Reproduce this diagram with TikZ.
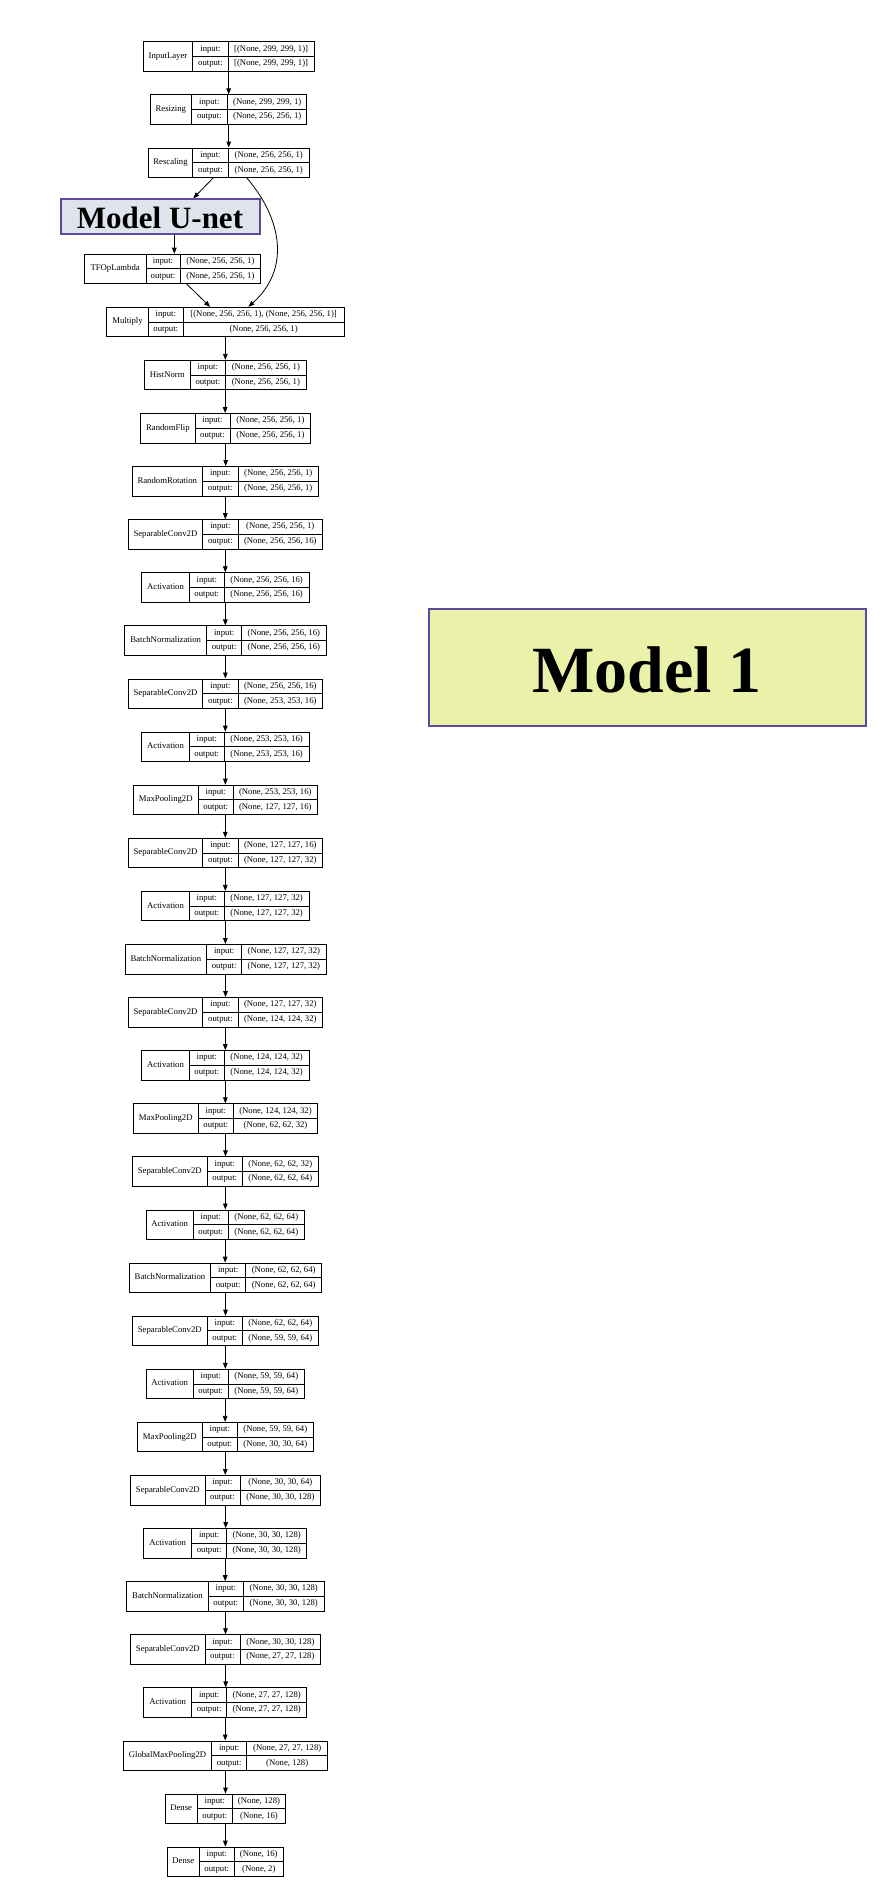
\documentclass[tikz,border=0pt]{standalone}
\usepackage{fontspec}
\setmainfont{Liberation Serif}
\usetikzlibrary{arrows.meta,calc}
\definecolor{purp}{RGB}{96,72,160}
\definecolor{unetfill}{RGB}{223,227,236}
\definecolor{mfill}{RGB}{234,242,169}
\tikzset{
  lbox/.style={draw=black, line width=0.8pt, rectangle, inner sep=0pt, minimum height=29.5pt},
  sep/.style={draw=black, line width=0.8pt},
  txt/.style={inner sep=0pt, text height=6pt, text depth=2pt, font=\fontsize{8.7}{10}\selectfont},
  arr/.style={line width=0.8pt, -{Triangle[length=6pt,width=4.6pt]}},
  titlebox/.style={draw=purp, line width=2pt, rectangle, inner sep=0pt},
}
\newcommand\klayer[8]{%
  \pgfmathsetmacro\kt{41.7+53.1*#1}%
  \pgfmathsetmacro\km{\kt+14.75}%
  \pgfmathsetmacro\kb{\kt+29.5}%
  \pgfmathsetmacro\kw{#5-#2}%
  \pgfmathsetmacro\kx{(#2+#5)/2}%
  \node[lbox, minimum width=\kw pt] (L#1) at (\kx,\km) {};
  \draw[sep] (#3,\kt) -- (#3,\kb) (#4,\kt) -- (#4,\kb) (#3,\km) -- (#5,\km);
  \node[txt] (L#1n) at ({(#2+#3)/2},\km) {#6};
  \node[txt] (L#1i) at ({(#3+#4)/2},{\kt+7.375}) {input:};
  \node[txt] (L#1o) at ({(#3+#4)/2},{\kt+22.125}) {output:};
  \node[txt] (L#1a) at ({(#4+#5)/2},{\kt+7.375}) {#7};
  \node[txt] (L#1b) at ({(#4+#5)/2},{\kt+22.125}) {#8};
}
\begin{document}
\begin{tikzpicture}[x=1pt,y=-1pt]
\useasboundingbox (0,0) rectangle (890,1896);
\fill[white] (0,0) rectangle (890,1896);

\klayer{0}{143.3}{192.7}{228.3}{314}{InputLayer}{[(None, 299, 299, 1)]}{[(None, 299, 299, 1)]}
\klayer{1}{150.7}{191}{227.7}{306.7}{Resizing}{(None, 299, 299, 1)}{(None, 256, 256, 1)}
\klayer{2}{148.3}{192.7}{228.3}{309.3}{Rescaling}{(None, 256, 256, 1)}{(None, 256, 256, 1)}
\klayer{4}{84.3}{146}{180}{260.7}{TFOpLambda}{(None, 256, 256, 1)}{(None, 256, 256, 1)}
\klayer{5}{106.7}{148.3}{183.3}{344}{Multiply}{[(None, 256, 256, 1), (None, 256, 256, 1)]}{(None, 256, 256, 1)}
\klayer{6}{144.3}{190}{225.7}{306}{HistNorm}{(None, 256, 256, 1)}{(None, 256, 256, 1)}
\klayer{7}{140.7}{195}{230}{310.7}{RandomFlip}{(None, 256, 256, 1)}{(None, 256, 256, 1)}
\klayer{8}{132.3}{202.3}{238.3}{318.3}{RandomRotation}{(None, 256, 256, 1)}{(None, 256, 256, 1)}
\klayer{9}{128.3}{202.5}{238.3}{322.3}{SeparableConv2D}{(None, 256, 256, 1)}{(None, 256, 256, 16)}
\klayer{10}{141.7}{189.3}{224.3}{309}{Activation}{(None, 256, 256, 16)}{(None, 256, 256, 16)}
\klayer{11}{124.7}{206.7}{241.7}{326}{BatchNormalization}{(None, 256, 256, 16)}{(None, 256, 256, 16)}
\klayer{12}{128.3}{202.7}{238.3}{322.3}{SeparableConv2D}{(None, 256, 256, 16)}{(None, 253, 253, 16)}
\klayer{13}{141.7}{189.3}{224.3}{309}{Activation}{(None, 253, 253, 16)}{(None, 253, 253, 16)}
\klayer{14}{133.3}{198.3}{233.3}{317.3}{MaxPooling2D}{(None, 253, 253, 16)}{(None, 127, 127, 16)}
\klayer{15}{128.3}{202.7}{238.3}{322.3}{SeparableConv2D}{(None, 127, 127, 16)}{(None, 127, 127, 32)}
\klayer{16}{141.7}{189.3}{224.3}{309}{Activation}{(None, 127, 127, 32)}{(None, 127, 127, 32)}
\klayer{17}{125}{206.7}{241.7}{326}{BatchNormalization}{(None, 127, 127, 32)}{(None, 127, 127, 32)}
\klayer{18}{128.3}{202.7}{238.3}{322.3}{SeparableConv2D}{(None, 127, 127, 32)}{(None, 124, 124, 32)}
\klayer{19}{141.7}{189.3}{224.3}{309}{Activation}{(None, 124, 124, 32)}{(None, 124, 124, 32)}
\klayer{20}{133.3}{198.3}{233.3}{317.7}{MaxPooling2D}{(None, 124, 124, 32)}{(None, 62, 62, 32)}
\klayer{21}{132.3}{207.3}{242.3}{318.3}{SeparableConv2D}{(None, 62, 62, 32)}{(None, 62, 62, 64)}
\klayer{22}{146}{193.3}{228.3}{304.3}{Activation}{(None, 62, 62, 64)}{(None, 62, 62, 64)}
\klayer{23}{129.3}{210.7}{245.7}{321.7}{BatchNormalization}{(None, 62, 62, 64)}{(None, 62, 62, 64)}
\klayer{24}{132.3}{207.3}{242.3}{318.3}{SeparableConv2D}{(None, 62, 62, 64)}{(None, 59, 59, 64)}
\klayer{25}{146}{193.3}{228.3}{304.3}{Activation}{(None, 59, 59, 64)}{(None, 59, 59, 64)}
\klayer{26}{137.3}{202.3}{237.3}{313.3}{MaxPooling2D}{(None, 59, 59, 64)}{(None, 30, 30, 64)}
\klayer{27}{130.7}{205}{240}{320.7}{SeparableConv2D}{(None, 30, 30, 64)}{(None, 30, 30, 128)}
\klayer{28}{143.7}{191.7}{226.7}{306.7}{Activation}{(None, 30, 30, 128)}{(None, 30, 30, 128)}
\klayer{29}{126.7}{208.3}{243.3}{324.3}{BatchNormalization}{(None, 30, 30, 128)}{(None, 30, 30, 128)}
\klayer{30}{130.7}{205}{240}{320.7}{SeparableConv2D}{(None, 30, 30, 128)}{(None, 27, 27, 128)}
\klayer{31}{143.7}{191.7}{226.7}{306.7}{Activation}{(None, 27, 27, 128)}{(None, 27, 27, 128)}
\klayer{32}{123.3}{211.7}{246.7}{327.7}{GlobalMaxPooling2D}{(None, 27, 27, 128)}{(None, 128)}
\klayer{33}{165}{197.3}{232.3}{285.7}{Dense}{(None, 128)}{(None, 16)}
\klayer{34}{167.3}{199.3}{234.3}{283.3}{Dense}{(None, 16)}{(None, 2)}

% title boxes
\node[titlebox, fill=unetfill, minimum width=199pt, minimum height=34.7pt] (unet) at (160.5,216.65) {};
\node[anchor=base, inner sep=0pt, font=\fontsize{31}{34}\selectfont\bfseries] (unett) at (160,228.3) {Model U-net};
\node[titlebox, fill=mfill, minimum width=437pt, minimum height=116.4pt] (m1) at (647.8,667.5) {};
\node[anchor=base, inner sep=0pt, font=\fontsize{66}{70}\selectfont\bfseries] (m1t) at (646.7,692.3) {Model 1};

% connectors
\draw[arr] (L0.south) -- (L0.south |- L1.north);
\draw[arr] (L1.south) -- (L1.south |- L2.north);
\draw[arr] ($(L2.south)+(-15.5,0)$) -- ($(unet.north)+(32.8,0)$);
\draw[arr] ($(unet.south)+(13.8,0)$) -- ($(L4.north)+(1.8,0)$);
\draw[arr] ($(L4.south)+(14.2,0)$) -- ($(L5.north)+(-15.3,0)$);
\draw[arr] ($(L2.south)+(17.9,0)$) .. controls (283,220) and (290,270) .. ($(L5.north)+(23,0)$);
\foreach \a/\b in {5/6,6/7,7/8,8/9,9/10,10/11,11/12,12/13,13/14,14/15,15/16,16/17,17/18,18/19,19/20,20/21,21/22,22/23,23/24,24/25,25/26,26/27,27/28,28/29,29/30,30/31,31/32,32/33,33/34}
  \draw[arr] (L\a.south) -- (L\a.south |- L\b.north);
\end{tikzpicture}
\end{document}
